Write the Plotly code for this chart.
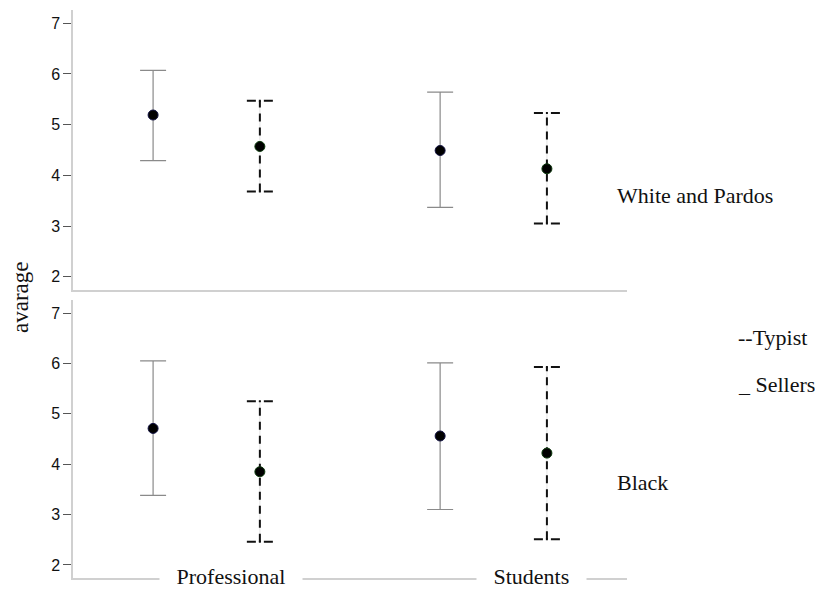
import plotly.graph_objects as go

# ---- data ----
categories = ["Professional", "Students"]
groups = ["White and Pardos", "Black"]

sellers_mean_wp = [5.19, 4.49]
sellers_low_wp = [4.29, 3.37]
sellers_high_wp = [6.07, 5.64]
typist_mean_wp = [4.57, 4.13]
typist_low_wp = [3.68, 3.05]
typist_high_wp = [5.47, 5.23]

sellers_mean_b = [4.71, 4.56]
sellers_low_b = [3.38, 3.10]
sellers_high_b = [6.05, 6.01]
typist_mean_b = [3.85, 4.22]
typist_low_b = [2.46, 2.51]
typist_high_b = [5.25, 5.93]

y_ticks = [2, 3, 4, 5, 6, 7]

# ---- style ----
OFF = 0.186      # offset of each series from the category centre
CAP = 0.0453     # half width of the dashed caps (data units)
SERIF = "Liberation Serif"
SANS = "Liberation Sans"
PAD = "&nbsp;" * 3

fig = go.Figure()

panels = [
    ("x", "y", sellers_mean_wp, sellers_low_wp, sellers_high_wp,
     typist_mean_wp, typist_low_wp, typist_high_wp),
    ("x2", "y2", sellers_mean_b, sellers_low_b, sellers_high_b,
     typist_mean_b, typist_low_b, typist_high_b),
]

for xa, ya, sm, sl, sh, tm, tl, th in panels:
    idx = list(range(len(categories)))
    xs = [i - OFF for i in idx]
    xt = [i + OFF for i in idx]
    # Sellers: solid gray error bars
    fig.add_trace(go.Scatter(
        x=xs, y=sm, mode="markers", xaxis=xa, yaxis=ya,
        marker=dict(size=10, color="#000000", line=dict(color="#101040", width=1)),
        error_y=dict(type="data", symmetric=False,
                     array=[h - m for h, m in zip(sh, sm)],
                     arrayminus=[m - l for m, l in zip(sm, sl)],
                     color="#8a8a8a", thickness=1.2, width=13),
        showlegend=False, hoverinfo="skip"))
    # Typist: dashed black error bars
    vx, vy, cx, cy = [], [], [], []
    for x0, lo, hi in zip(xt, tl, th):
        vx += [x0, x0, None]
        vy += [lo, hi, None]
        cx += [x0 - CAP, x0 + CAP, None, x0 - CAP, x0 + CAP, None]
        cy += [hi, hi, None, lo, lo, None]
    fig.add_trace(go.Scatter(x=vx, y=vy, mode="lines", xaxis=xa, yaxis=ya,
                             line=dict(color="#d8d8d8", width=0.7),
                             showlegend=False, hoverinfo="skip"))
    fig.add_trace(go.Scatter(x=vx, y=vy, mode="lines", xaxis=xa, yaxis=ya,
                             line=dict(color="#111111", width=2, dash="8px,6px"),
                             showlegend=False, hoverinfo="skip"))
    fig.add_trace(go.Scatter(x=cx, y=cy, mode="lines", xaxis=xa, yaxis=ya,
                             line=dict(color="#111111", width=2, dash="9px,3px,2px,3px,9px,40px"),
                             showlegend=False, hoverinfo="skip"))
    fig.add_trace(go.Scatter(
        x=xt, y=tm, mode="markers", xaxis=xa, yaxis=ya,
        marker=dict(size=10, color="#000000", line=dict(color="#0c3a0c", width=1)),
        showlegend=False, hoverinfo="skip"))

yax = dict(range=[1.74, 7.26], tickvals=y_ticks, ticks="outside", ticklen=8,
           tickcolor="#555555", tickwidth=1, showline=True, linecolor="#d0d0d0",
           linewidth=1.5, showgrid=False, zeroline=False,
           tickfont=dict(family=SANS, size=16, color="#111111"))
xax = dict(range=[-0.465, 1.465], showticklabels=False, ticks="", showline=True,
           linecolor="#d0d0d0", linewidth=1.5, showgrid=False, zeroline=False)

# the page adds an 8px body margin, so the figure is sized to fit the window
fig.update_layout(
    width=807, height=580,
    margin=dict(l=65, r=188, t=2, b=10),
    paper_bgcolor="white", plot_bgcolor="white",
    xaxis=dict(xax, domain=[0, 1], anchor="y"),
    yaxis=dict(yax, domain=[0.507, 1], anchor="x"),
    xaxis2=dict(xax, domain=[0, 1], anchor="y2"),
    yaxis2=dict(yax, domain=[0, 0.4894], anchor="x2"),
)

ann_font = dict(family=SERIF, size=22, color="#111111")
annotations = [
    dict(text="avarage", x=-0.0957, y=0.4947, xref="paper", yref="paper",
         textangle=-90, showarrow=False, xanchor="center", yanchor="middle",
         font=dict(family=SERIF, size=23, color="#111111")),
    dict(text=groups[0], x=0.978, y=0.674, xref="paper", yref="paper",
         showarrow=False, xanchor="left", yanchor="middle", font=ann_font),
    dict(text=groups[1], x=0.978, y=0.169, xref="paper", yref="paper",
         showarrow=False, xanchor="left", yanchor="middle", font=ann_font),
    dict(text="--Typist", x=1.1968, y=0.424, xref="paper", yref="paper",
         showarrow=False, xanchor="left", yanchor="middle", font=ann_font),
    dict(text="_ Sellers", x=1.1968, y=0.340, xref="paper", yref="paper",
         showarrow=False, xanchor="left", yanchor="middle", font=ann_font),
]
for cat, px in zip(categories, [0.286, 0.828]):
    annotations.append(dict(text=PAD + cat + PAD, x=px, y=0.0035, xref="paper", yref="paper",
                            showarrow=False, xanchor="center", yanchor="middle",
                            bgcolor="white", borderpad=0, font=ann_font))
fig.update_layout(annotations=annotations)

fig.write_html("out.html")
